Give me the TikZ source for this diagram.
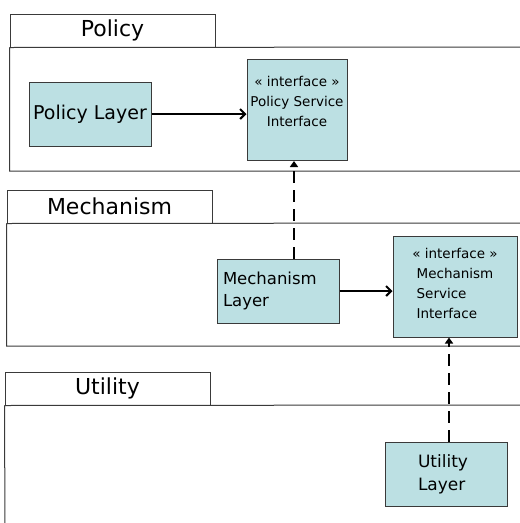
\documentclass[tikz,border=0pt]{standalone}
\usepackage{fontspec}
\setmainfont{DejaVu Sans}
\usepackage{tikz}
\usetikzlibrary{arrows.meta}
\definecolor{boxfill}{HTML}{BCE0E3}
\definecolor{pkgline}{HTML}{3A3A3A}

\begin{document}
\begin{tikzpicture}[x=1pt, y=-1pt,
    tab/.style={draw=pkgline, line width=1pt, minimum width=205pt, minimum height=33pt,
      inner sep=0pt, font=\fontsize{22}{26}\selectfont},
    pkg/.style={draw=pkgline, line width=1pt},
    layer/.style={draw=pkgline, fill=boxfill, line width=1pt, minimum width=122pt,
      minimum height=64pt, inner sep=3pt},
    iface/.style={layer, minimum height=101pt, inner sep=1pt, font=\fontsize{13.5}{20}\selectfont},
    call/.style={-{Straight Barb[length=5pt, width=10pt]}, line width=2pt},
    realize/.style={-{Triangle[length=6pt, width=8pt]}, line width=2.5pt, dash pattern=on 12pt off 7pt}]
    \useasboundingbox (0,0) rectangle (520,523);
    % Policy package
    \node[tab] (policytab) at (112.5,30.5) {Policy};
    \draw[pkg] (policytab.south west) |- (530,171) (policytab.south west) -- (530,47);
    \node[layer, font=\fontsize{19}{22}\selectfont] (policylayer) at (90,114) {Policy Layer};
    \node[iface, minimum width=100pt, align=center, text depth=18pt] (policyiface) at (297,110)
      {« interface »\\Policy Service\\Interface};
    % Mechanism package
    \node[tab] (mechtab) at (109.5,206.5) {Mechanism};
    \draw[pkg] (mechtab.south west) |- (530,346) (mechtab.south west) -- (530,223);
    \node[layer, text width=110pt, align=left, font=\fontsize{16.5}{22}\selectfont] (mechlayer)
      at (278,291) {Mechanism\\Layer};
    \node[iface, minimum width=124pt, align=center] (mechiface) at (455,286.5)
      {« interface »\\\begin{tabular}[t]{@{}l@{}}Mechanism\\Service\\Interface\end{tabular}};
    % Utility package
    \node[tab] (utiltab) at (107.5,388.5) {Utility};
    \draw[pkg] (utiltab.south west) -- (5,530) (utiltab.south west) -- (530,405);
    \node[layer, text width=56pt, align=left, font=\fontsize{17}{23}\selectfont] (utillayer) at (446,474)
      {Utility\\Layer};
    % dependencies
    \draw[call] (policylayer.east) -- (policylayer.east -| policyiface.west);
    \draw[call] (mechlayer.east) -- (mechlayer.east -| mechiface.west);
    \draw[realize] ([xshift=-3pt]policyiface.south |- mechlayer.north) -- ([xshift=-3pt]policyiface.south);
    \draw[realize] ([xshift=3pt]utillayer.north) -- ([xshift=3pt]utillayer.north |- mechiface.south);
\end{tikzpicture}
\end{document}
